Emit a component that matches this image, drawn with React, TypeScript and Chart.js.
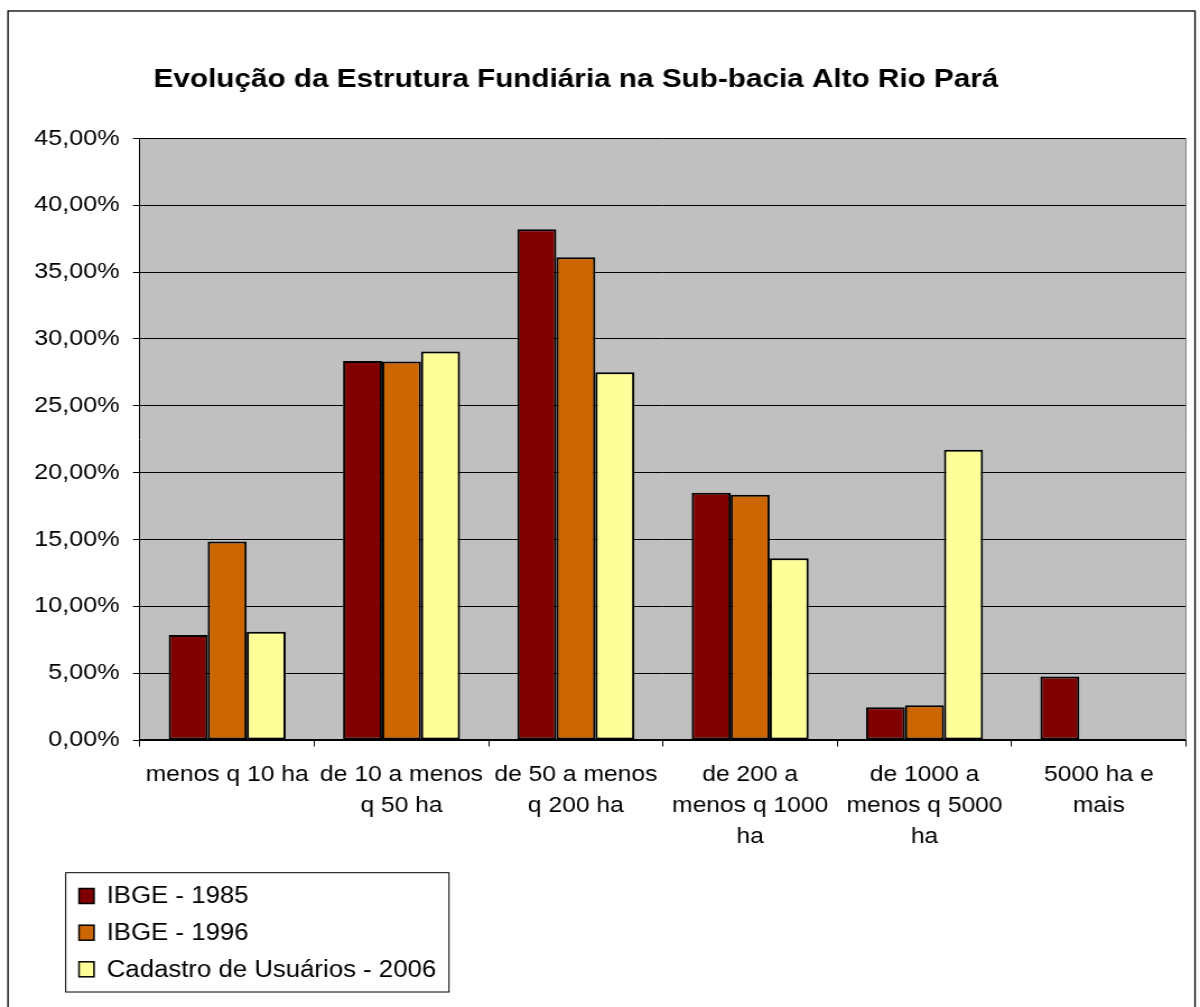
import React, { useEffect, useRef } from "react";
import { Chart, registerables } from "chart.js";

Chart.register(...registerables);

// ---- data ----
const chartTitle = "Evolução da Estrutura Fundiária na Sub-bacia Alto Rio Pará";
const categories: string[][] = [
  ["menos q 10 ha"],
  ["de 10 a menos", "q 50 ha"],
  ["de 50 a menos", "q 200 ha"],
  ["de 200 a", "menos q 1000", "ha"],
  ["de 1000 a", "menos q 5000", "ha"],
  ["5000 ha e", "mais"],
];
const seriesNames = ["IBGE - 1985", "IBGE - 1996", "Cadastro de Usuários - 2006"];
const ibge1985 = [7.85, 28.35, 38.2, 18.5, 2.45, 4.75];
const ibge1996 = [14.85, 28.3, 36.1, 18.35, 2.6, 0];
const cadastro2006 = [8.1, 29.05, 27.5, 13.6, 21.7, 0];
const seriesColors = ["#800000", "#CC6600", "#FFFF99"];
const yMin = 0;
const yMax = 45;
const yStep = 5;

// ---- layout (canvas is drawn at W wide, displayed at 1200 wide) ----
const DISPLAY_W = 1200;
const H = 1007;
const W = 1071;
const S = DISPLAY_W / W;
const FONT = "'Liberation Sans', Arial, Helvetica, sans-serif";

const formatPct = (v: number) => v.toFixed(2).replace(".", ",") + "%";

export default function App() {
  const ref = useRef<HTMLCanvasElement | null>(null);

  useEffect(() => {
    const canvas = ref.current;
    if (!canvas) return;

    const decorPlugin = {
      id: "decor",
      beforeDraw(chart: any) {
        const { ctx, chartArea } = chart;
        ctx.save();
        ctx.fillStyle = "#C0C0C0";
        ctx.fillRect(
          chartArea.left,
          chartArea.top,
          chartArea.right - chartArea.left,
          chartArea.bottom - chartArea.top
        );
        ctx.restore();
      },
      afterDraw(chart: any) {
        const { ctx, chartArea } = chart;
        ctx.save();
        // plot area right border
        ctx.strokeStyle = "#808080";
        ctx.lineWidth = 1;
        ctx.beginPath();
        ctx.moveTo(chartArea.right, chartArea.top);
        ctx.lineTo(chartArea.right, chartArea.bottom);
        ctx.stroke();

        // outer chart border
        ctx.strokeStyle = "#000";
        ctx.lineWidth = 1.3;
        ctx.strokeRect(8 / S, 11, 1195 / S - 8 / S, 1020);

        // title
        ctx.fillStyle = "#000";
        ctx.font = `bold 26.5px ${FONT}`;
        ctx.textAlign = "center";
        ctx.textBaseline = "alphabetic";
        ctx.fillText(chartTitle, 576 / S, 86.7);

        // legend
        const bx = 65.7 / S;
        const by = 872.7;
        const bw = 449 / S - bx;
        const bh = 992 - by;
        ctx.fillStyle = "#fff";
        ctx.fillRect(bx, by, bw, bh);
        ctx.strokeStyle = "#000";
        ctx.lineWidth = 1;
        ctx.strokeRect(bx, by, bw, bh);
        const rowY = [896, 932.7, 969.3];
        chart.data.datasets.forEach((ds: any, i: number) => {
          const cy = rowY[i];
          const sx = 79 / S;
          const sw = 15 / S;
          ctx.fillStyle = ds.backgroundColor;
          ctx.fillRect(sx, cy - 7.5, sw, 15);
          ctx.strokeStyle = "#000";
          ctx.lineWidth = 1.5;
          ctx.strokeRect(sx, cy - 7.5, sw, 15);
          ctx.fillStyle = "#000";
          ctx.font = `23px ${FONT}`;
          ctx.textAlign = "left";
          ctx.textBaseline = "middle";
          ctx.fillText(ds.label, 106.7 / S, cy + 1);
        });
        ctx.restore();
      },
    };

    const mk = (label: string, data: number[], color: string) => ({
      label,
      data,
      backgroundColor: color,
      borderColor: "#000",
      borderWidth: 2,
      borderSkipped: false,
      categoryPercentage: 0.671,
      barPercentage: 1,
    });

    const chart = new Chart(canvas, {
      type: "bar",
      data: {
        labels: categories,
        datasets: [
          mk(seriesNames[0], ibge1985, seriesColors[0]),
          mk(seriesNames[1], ibge1996, seriesColors[1]),
          mk(seriesNames[2], cadastro2006, seriesColors[2]),
        ],
      },
      options: {
        responsive: false,
        animation: false,
        devicePixelRatio: 1,
        events: [],
        layout: { padding: { top: 138.3, right: 1071 - 1186 / S, left: 0, bottom: 0 } },
        plugins: {
          legend: { display: false },
          title: { display: false },
          tooltip: { enabled: false },
        },
        scales: {
          x: {
            offset: true,
            grid: {
              display: true,
              offset: true,
              drawOnChartArea: false,
              drawTicks: true,
              tickLength: 6.5,
              tickColor: "#000",
              tickWidth: 1,
            },
            border: { display: true, color: "#000", width: 2 },
            ticks: {
              color: "#000",
              font: { family: FONT, size: 22, lineHeight: 1.41 },
              padding: 13,
              maxRotation: 0,
              minRotation: 0,
              autoSkip: false,
            },
            afterFit: (s: any) => {
              s.height = H - 740;
            },
          },
          y: {
            min: yMin,
            max: yMax,
            ticks: {
              stepSize: yStep,
              color: "#000",
              font: { family: FONT, size: 22.5 },
              padding: 12,
              callback: (v: any) => formatPct(Number(v)),
            },
            grid: {
              color: "#000",
              lineWidth: 1,
              drawTicks: true,
              tickLength: 7 / S,
              tickColor: "#000",
            },
            border: { display: true, color: "#000", width: 1 },
            afterFit: (s: any) => {
              s.width = 140 / S;
            },
          },
        },
      },
      plugins: [decorPlugin],
    } as any);

    return () => {
      chart.destroy();
    };
  }, []);

  return (
    <div style={{ position: "absolute", left: 0, top: 0, width: DISPLAY_W, height: H, background: "#fff" }}>
      <canvas
        ref={ref}
        width={W}
        height={H}
        style={{ width: `${DISPLAY_W}px`, height: `${H}px`, display: "block" }}
      />
    </div>
  );
}
